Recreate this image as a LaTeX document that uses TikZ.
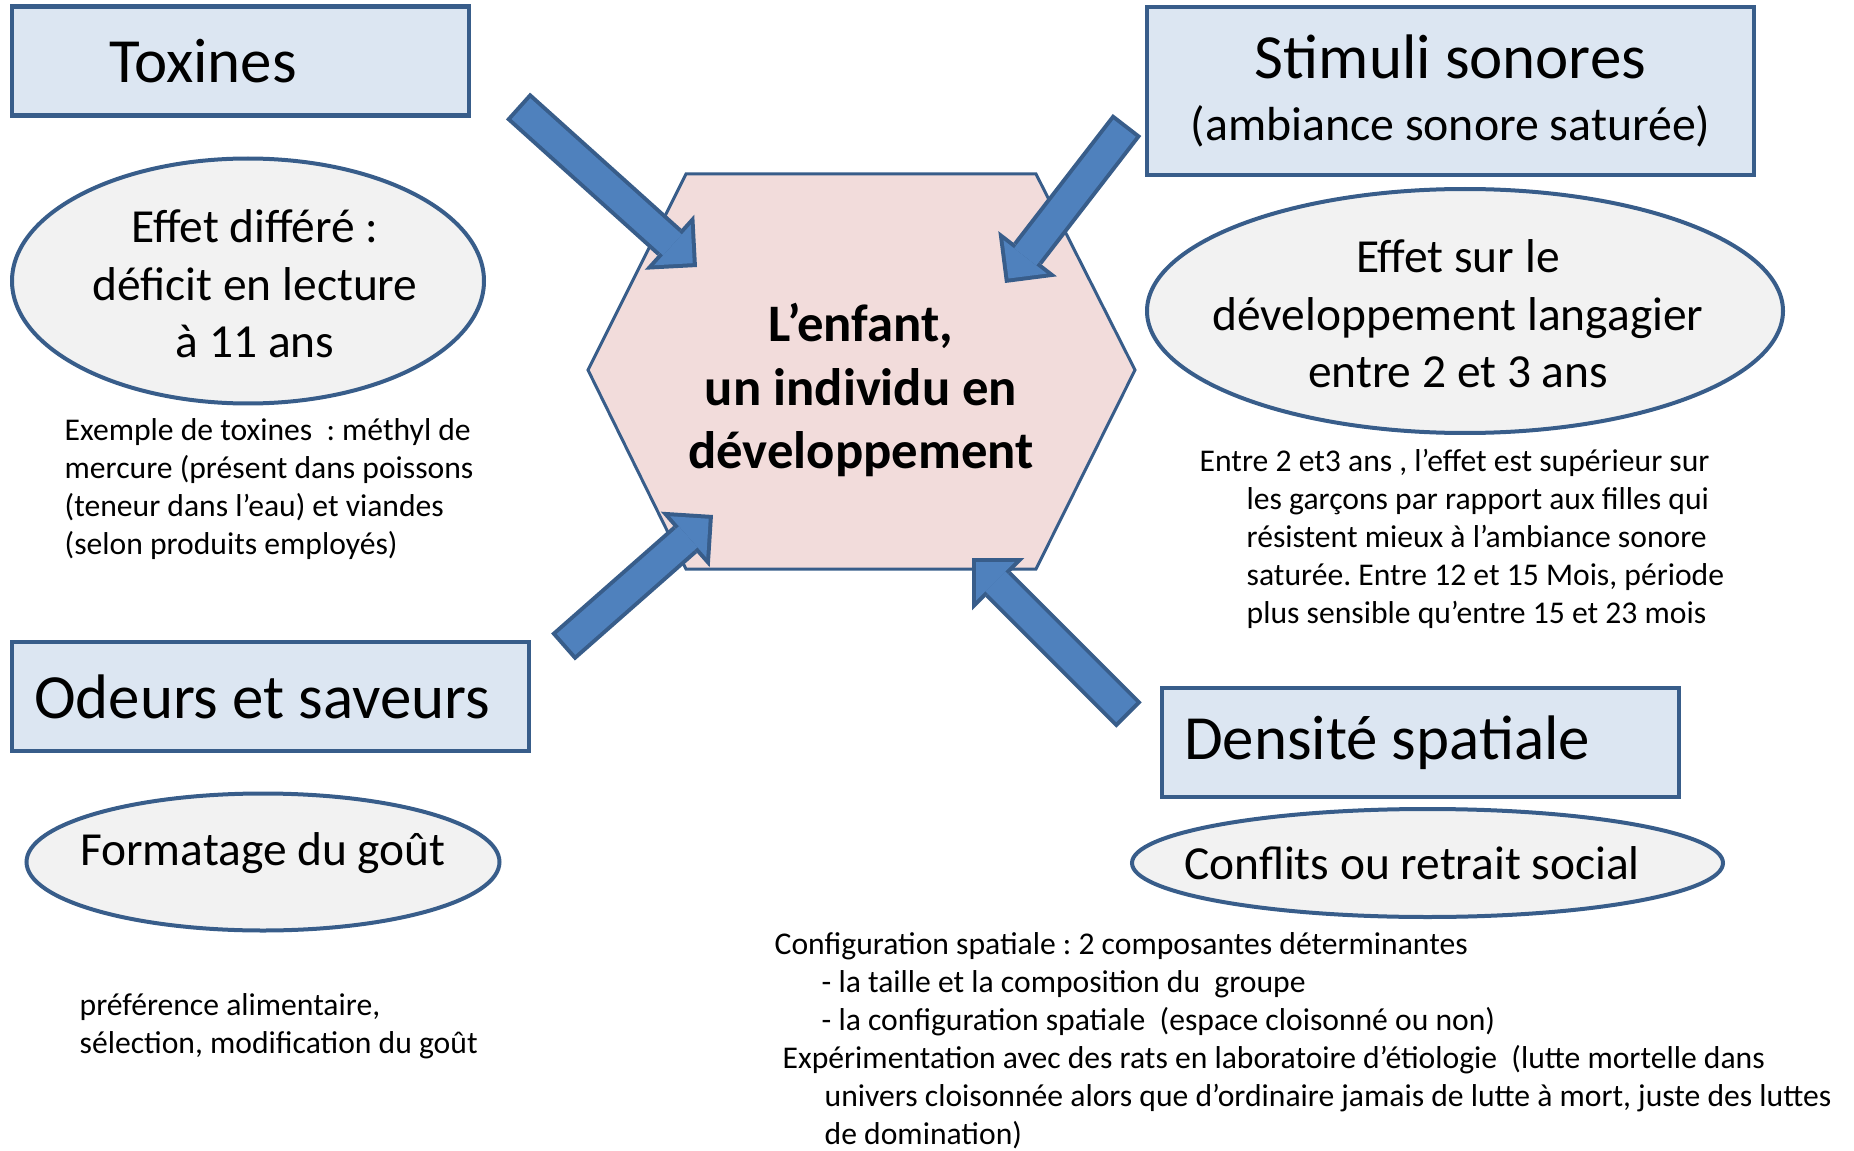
\documentclass[tikz,border=0pt]{standalone}
\usepackage{fontspec}
\setmainfont{Carlito}
\usetikzlibrary{arrows.meta,shapes.geometric}

\definecolor{boxline}{HTML}{385D8A}
\definecolor{boxfill}{HTML}{DCE6F2}
\definecolor{ovalfill}{HTML}{F2F2F2}
\definecolor{hexfill}{HTML}{F2DCDB}
\definecolor{arrowfill}{HTML}{4F81BD}

\newcommand\retrait{\hspace*{4.7mm}}
\frenchspacing

\begin{document}
\begin{tikzpicture}
  [ x=0.1mm, y=-0.1mm,
    cat box/.style={draw=boxline, fill=boxfill, line width=0.45mm,
      minimum height=10.9mm, align=flush left,
      font=\fontsize{17.9pt}{17.6pt}\selectfont},
    effect oval/.style={ellipse, draw=boxline, fill=ovalfill,
      line width=0.4mm, inner sep=0pt},
    effect text/.style={align=center, inner sep=0pt,
      font=\fontsize{13.5pt}{16.4pt}\selectfont},
    note text/.style={align=left, anchor=base west, inner sep=0pt,
      font=\fontsize{9pt}{10.8pt}\selectfont},
    hex shape/.style={draw=boxline, fill=hexfill, line width=0.3mm},
    my block arrow/.style={line width=3.6mm, boxline,
      -{Triangle[length=3.7mm, width=7.4mm, line width=0pt]},
      postaction={draw, arrowfill, line width=2.8mm,
        shorten >=0.57mm, shorten <=0.4mm,
        -{Triangle[length=2.73mm, width=5.47mm, line width=0pt]}}}, ]

  \useasboundingbox (0,0) rectangle (1854,1151);

  \draw[hex shape] (588,370) -- (686,174) -- (1036,174) -- (1135,370)
    -- (1036,569) -- (686,569) -- cycle;
  \node[align=center, inner sep=0pt,
    font=\bfseries\fontsize{15pt}{18.1pt}\selectfont] (enfant) at (861,390)
    {L’enfant,\\un individu en\\développement};

  \coordinate (toxfrom) at (518,106);
  \coordinate (toxto) at (697,267);
  \coordinate (sonfrom) at (1127,125);
  \coordinate (sonto) at (1005,283);
  \coordinate (odefrom) at (563,647);
  \coordinate (odeto) at (713,515);
  \coordinate (denfrom) at (1129,715);
  \coordinate (dento) at (972,558);

  \draw[my block arrow] (toxfrom) -- (toxto);
  \draw[my block arrow] (sonfrom) -- (sonto);
  \draw[my block arrow] (odefrom) -- (odeto);
  \draw[my block arrow] (denfrom) -- (dento);

  \node[cat box, text width=26.3mm, inner xsep=9.7mm] (toxines) at (240.5,61)
    {Toxines};
  \node[cat box, align=center, minimum width=60.7mm, minimum height=16.8mm]
    (sonores) at (1450.5,91)
    {Stimuli sonores\\{\fontsize{13.6pt}{17.6pt}\selectfont (ambiance sonore saturée)}};
  \node[cat box, text width=47.3mm, inner xsep=2.2mm] (odeurs) at (270.5,696.5)
    {Odeurs et saveurs};
  \node[cat box, text width=47.3mm, inner xsep=2.2mm] (densite) at (1420.5,742.5)
    {Densité spatiale};

  \node[effect oval, minimum width=47.2mm, minimum height=24.5mm] (differe)
    at (248,281) {};
  \node[effect text] (differetxt) at (255,284)
    {Effet différé :\\déficit en lecture\\à 11 ans};
  \node[effect oval, minimum width=63.6mm, minimum height=24.4mm] (langage)
    at (1465,311) {};
  \node[effect text] (langagetxt) at (1458,314)
    {Effet sur le\\développement langagier\\entre 2 et 3 ans};
  \node[effect oval, minimum width=47.3mm, minimum height=13.7mm] (gout)
    at (263,862) {};
  \node[effect text, anchor=base] (gouttxt) at (263,865) {Formatage du goût};
  \node[effect oval, minimum width=59.1mm, minimum height=10.8mm] (social)
    at (1427.5,863) {};
  \node[effect text, anchor=base] (socialtxt) at (1412,879)
    {Conflits ou retrait social};

  % base = baseline of the last line
  \node[note text] (toxnote) at (64,554)
    {Exemple de toxines~ : méthyl de\\mercure (présent dans poissons\\(teneur dans l’eau) et viandes\\(selon produits employés)};
  \node[note text] (sonnote) at (1199,623)
    {Entre 2 et3 ans , l’effet est supérieur sur\\\retrait les garçons par rapport aux filles qui\\\retrait résistent mieux à l’ambiance sonore\\\retrait saturée. Entre 12 et 15 Mois, période\\\retrait plus sensible qu’entre 15 et 23 mois};
  \node[note text] (goutnote) at (79,1053)
    {préférence alimentaire,\\sélection, modification du goût};
  \node[note text] (densnote) at (774,1144)
    {Configuration spatiale : 2 composantes déterminantes\\\retrait - la taille et la composition du~ groupe\\\retrait - la configuration spatiale~ (espace cloisonné ou non)\\\hspace*{0.8mm}Expérimentation avec des rats en laboratoire d’étiologie~ (lutte mortelle dans\\\hspace*{5mm}univers cloisonnée alors que d’ordinaire jamais de lutte à mort, juste des luttes\\\hspace*{5mm}de domination)};

\end{tikzpicture}
\end{document}
